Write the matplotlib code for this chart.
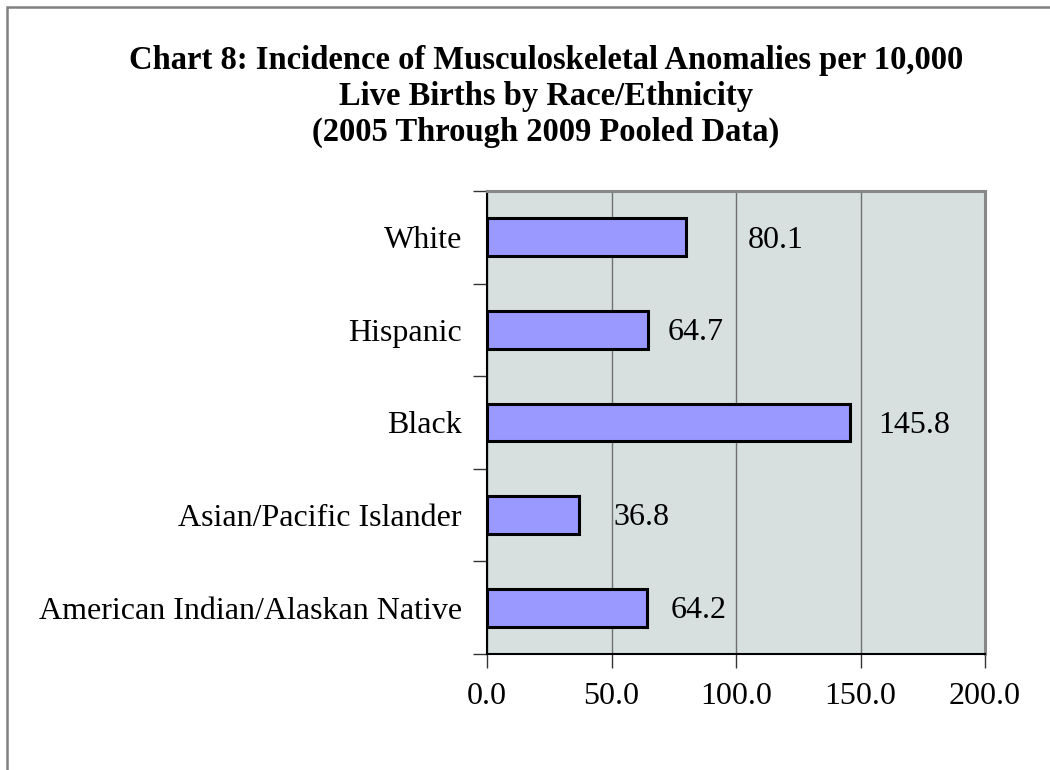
import matplotlib
matplotlib.use("Agg")
import matplotlib.pyplot as plt
from matplotlib.patches import Rectangle
import numpy as np

# data, top to bottom as shown
categories = ["White", "Hispanic", "Black", "Asian/Pacific Islander",
              "American Indian/Alaskan Native"]
rates = [80.1, 64.7, 145.8, 36.8, 64.2]
x_ticks = [0, 50, 100, 150, 200]

# label nudges (points) to mimic the original Excel label placement
label_dx = [44, 14, 20, 25, 17]

title = ("Chart 8: Incidence of Musculoskeletal Anomalies per 10,000\n"
         "Live Births by Race/Ethnicity\n"
         "(2005 Through 2009 Pooled Data)")

plt.rcParams["font.family"] = ["Liberation Serif", "DejaVu Serif"]

fig = plt.figure(figsize=(10.5, 7.7), dpi=100)
ax = fig.add_axes([487 / 1050, 1 - 654 / 770, 498 / 1050, 463 / 770])

# outer chart border (runs off the right and bottom edges)
fig.patches.append(Rectangle((7 / 1050, -0.05), 1.1, 1 - 7 / 770 + 0.05,
                             transform=fig.transFigure, fill=False,
                             edgecolor="#808080", linewidth=1.8))

ypos = np.arange(len(categories))[::-1]
ax.set_facecolor("#d7dfdf")
ax.barh(ypos, rates, height=0.41, color="#9999ff", edgecolor="black",
        linewidth=2.2, zorder=3)

for y, v, dx in zip(ypos, rates, label_dx):
    ax.annotate(f"{v:.1f}", (v, y), xytext=(dx, -2), textcoords="offset points",
                ha="left", va="center", fontsize=23, zorder=4)

ax.set_xlim(0, 200)
ax.set_ylim(-0.5, len(categories) - 0.5)
ax.set_xticks(x_ticks)
ax.set_xticklabels([f"{t:.1f}" for t in x_ticks], fontsize=23)
ax.xaxis.grid(True, color="#707070", linewidth=1.0, zorder=1)

ax.set_yticks(ypos)
ax.set_yticklabels(categories, fontsize=23)
ax.set_yticks(np.arange(len(categories) + 1) - 0.5, minor=True)
ax.tick_params(axis="y", which="major", length=0, pad=18)
ax.tick_params(axis="y", which="minor", length=10, width=1.0, color="#333333")
ax.tick_params(axis="x", length=10, width=1.0, color="#333333", pad=10)

for side in ["left", "bottom"]:
    ax.spines[side].set_color("black")
    ax.spines[side].set_linewidth(1.5)
for side in ["right", "top"]:
    ax.spines[side].set_color("#888888")
    ax.spines[side].set_linewidth(2.2)

fig.text(0.52, 1 - 45 / 770, title, ha="center", va="top", fontsize=23.5,
         fontweight="bold", linespacing=1.2)

fig.savefig("out.png", dpi=100)
